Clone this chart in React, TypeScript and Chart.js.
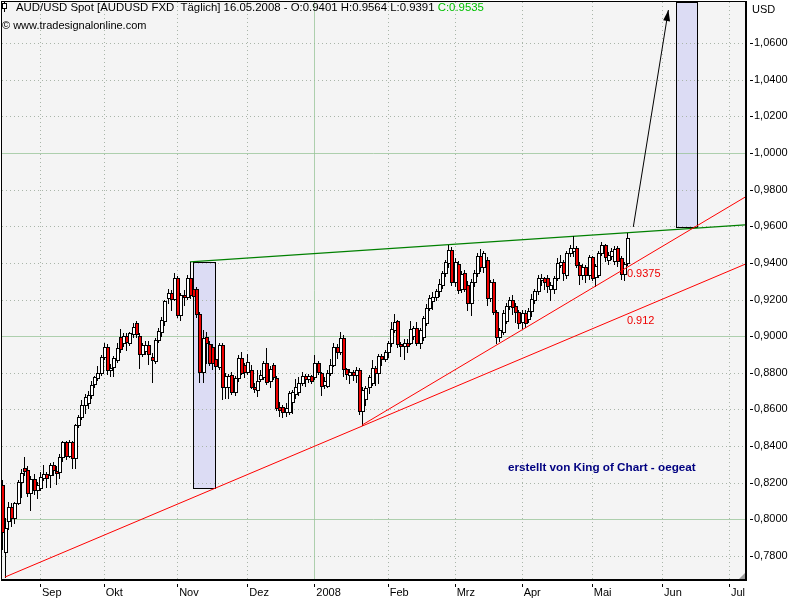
import React, { useEffect, useRef } from "react";
import { Chart, registerables } from "chart.js";

Chart.register(...registerables);

// ---- Data (trading-day index 0 = 03.09.2007) ----
const firstBarIndex = -12;

const opens = [
  0.819, 0.782, 0.799, 0.8067, 0.8007, 0.809, 0.8204, 0.828, 0.827, 0.8144,
  0.822, 0.816, 0.8171, 0.8225, 0.8245, 0.8242, 0.8297, 0.8262, 0.8259, 0.834,
  0.842, 0.8346, 0.842, 0.8335, 0.8515, 0.856, 0.8624, 0.8635, 0.868, 0.874,
  0.877, 0.88, 0.8886, 0.894, 0.8815, 0.883, 0.887, 0.8995, 0.896, 0.9,
  0.8965, 0.901, 0.907, 0.9, 0.8905, 0.8918, 0.895, 0.8886, 0.8865, 0.898,
  0.9025, 0.908, 0.921, 0.9235, 0.9205, 0.932, 0.9115, 0.9225, 0.9215, 0.9315,
  0.926, 0.926, 0.912, 0.8805, 0.8995, 0.8955, 0.894, 0.8875, 0.883, 0.895,
  0.8725, 0.8725, 0.879, 0.8695, 0.877, 0.888, 0.884, 0.8805, 0.8815, 0.8725,
  0.8705, 0.8765, 0.8775, 0.8855, 0.8755, 0.8845, 0.877, 0.8615, 0.8615, 0.8585,
  0.8585, 0.864, 0.8685, 0.8695, 0.8745, 0.878, 0.8765, 0.878, 0.8775, 0.8855,
  0.88, 0.8735, 0.873, 0.88, 0.8845, 0.894, 0.8915, 0.899, 0.882, 0.879,
  0.8805, 0.879, 0.8815, 0.859, 0.8655, 0.8725, 0.8745, 0.8825, 0.88, 0.889,
  0.8875, 0.8915, 0.896, 0.9035, 0.908, 0.8955, 0.8945, 0.896, 0.8965, 0.9,
  0.9045, 0.8965, 0.8995, 0.907, 0.9155, 0.919, 0.9215, 0.9245, 0.928, 0.9345,
  0.94, 0.947, 0.9295, 0.9395, 0.926, 0.9345, 0.928, 0.918, 0.9295, 0.9345,
  0.944, 0.9375, 0.9415, 0.921, 0.9295, 0.913, 0.8995, 0.9025, 0.9085, 0.9165,
  0.92, 0.9165, 0.913, 0.9075, 0.9125, 0.9095, 0.9135, 0.9195, 0.9245, 0.9305,
  0.9315, 0.9315, 0.926, 0.926, 0.932, 0.939, 0.9405, 0.9335, 0.9455, 0.9465,
  0.948, 0.939, 0.9335, 0.9375, 0.9335, 0.943, 0.9325, 0.9335, 0.9455, 0.95,
  0.9415, 0.9435, 0.941, 0.948, 0.9425, 0.934, 0.9401,
];

const highs = [
  0.8215, 0.801, 0.8095, 0.809, 0.8095, 0.8215, 0.8275, 0.834, 0.829, 0.8235,
  0.8245, 0.8205, 0.826, 0.8295, 0.826, 0.831, 0.8315, 0.829, 0.8355, 0.8425,
  0.843, 0.8435, 0.843, 0.852, 0.857, 0.865, 0.8685, 0.87, 0.8755, 0.8785,
  0.8835, 0.8895, 0.8965, 0.8955, 0.885, 0.889, 0.8965, 0.904, 0.9015, 0.9015,
  0.9025, 0.907, 0.9085, 0.9015, 0.8965, 0.8975, 0.8975, 0.891, 0.899, 0.9045,
  0.9105, 0.92, 0.926, 0.925, 0.9345, 0.933, 0.9235, 0.925, 0.9335, 0.9405,
  0.927, 0.927, 0.913, 0.9035, 0.902, 0.8975, 0.8955, 0.8895, 0.8965, 0.8965,
  0.88, 0.8795, 0.8805, 0.8785, 0.8895, 0.8915, 0.8855, 0.8905, 0.8845, 0.8745,
  0.8815, 0.8815, 0.8865, 0.8935, 0.8835, 0.8855, 0.878, 0.864, 0.8625, 0.8635,
  0.87, 0.8705, 0.8765, 0.8775, 0.8805, 0.8795, 0.8795, 0.879, 0.8895, 0.8865,
  0.8805, 0.8775, 0.8815, 0.8875, 0.896, 0.8955, 0.9025, 0.9005, 0.8825, 0.882,
  0.8815, 0.883, 0.8825, 0.872, 0.873, 0.879, 0.887, 0.8835, 0.8905, 0.8905,
  0.8925, 0.8975, 0.9075, 0.912, 0.909, 0.897, 0.8985, 0.8985, 0.9085, 0.9055,
  0.9075, 0.9045, 0.911, 0.9175, 0.9225, 0.924, 0.926, 0.931, 0.9355, 0.9415,
  0.9497, 0.9485, 0.9425, 0.941, 0.9355, 0.936, 0.93, 0.931, 0.936, 0.9455,
  0.9475, 0.9465, 0.943, 0.9305, 0.931, 0.914, 0.9045, 0.9145, 0.918, 0.9215,
  0.9225, 0.918, 0.9145, 0.914, 0.9145, 0.9155, 0.923, 0.926, 0.9335, 0.934,
  0.9325, 0.9335, 0.9295, 0.933, 0.9425, 0.9445, 0.9415, 0.9465, 0.9495, 0.9545,
  0.949, 0.9405, 0.9395, 0.939, 0.9445, 0.944, 0.9395, 0.9465, 0.9515, 0.9505,
  0.946, 0.948, 0.949, 0.949, 0.9435, 0.9405, 0.9564,
];

const lows = [
  0.784, 0.7685, 0.795, 0.7964, 0.798, 0.8085, 0.812, 0.824, 0.813, 0.805,
  0.814, 0.8117, 0.816, 0.8215, 0.8175, 0.8174, 0.824, 0.8195, 0.8225, 0.832,
  0.833, 0.834, 0.828, 0.828, 0.8505, 0.855, 0.858, 0.861, 0.8665, 0.8725,
  0.876, 0.879, 0.8875, 0.8795, 0.878, 0.8785, 0.886, 0.8915, 0.8945, 0.8925,
  0.895, 0.8995, 0.8995, 0.8825, 0.889, 0.89, 0.885, 0.875, 0.8855, 0.897,
  0.9, 0.906, 0.918, 0.9145, 0.9195, 0.9105, 0.909, 0.917, 0.9205, 0.921,
  0.921, 0.9105, 0.875, 0.875, 0.8855, 0.884, 0.882, 0.8815, 0.882, 0.8655,
  0.866, 0.8665, 0.8685, 0.868, 0.8755, 0.8795, 0.8775, 0.8795, 0.8715, 0.8695,
  0.8675, 0.8755, 0.8765, 0.874, 0.8725, 0.8765, 0.8595, 0.8565, 0.856, 0.8565,
  0.8575, 0.858, 0.866, 0.868, 0.8735, 0.873, 0.875, 0.8745, 0.8765, 0.8795,
  0.868, 0.8715, 0.872, 0.879, 0.8835, 0.888, 0.89, 0.8785, 0.8765, 0.8745,
  0.876, 0.875, 0.8575, 0.8515, 0.8625, 0.869, 0.8735, 0.8735, 0.8745, 0.8845,
  0.8865, 0.8885, 0.8945, 0.902, 0.894, 0.889, 0.8875, 0.8915, 0.8955, 0.8985,
  0.895, 0.8935, 0.898, 0.906, 0.9145, 0.915, 0.9195, 0.922, 0.9265, 0.933,
  0.938, 0.928, 0.9275, 0.9235, 0.924, 0.9245, 0.9145, 0.9115, 0.9275, 0.933,
  0.9355, 0.935, 0.917, 0.919, 0.912, 0.8965, 0.8975, 0.901, 0.907, 0.915,
  0.912, 0.9075, 0.9045, 0.9045, 0.905, 0.9075, 0.911, 0.918, 0.923, 0.928,
  0.926, 0.924, 0.9195, 0.9235, 0.9305, 0.9375, 0.9305, 0.932, 0.9435, 0.944,
  0.9375, 0.9285, 0.931, 0.9295, 0.931, 0.9305, 0.9275, 0.9325, 0.9445, 0.941,
  0.9395, 0.942, 0.9395, 0.9385, 0.931, 0.9305, 0.9391,
];

const closes = [
  0.793, 0.7953, 0.8067, 0.8007, 0.809, 0.8204, 0.8253, 0.8264, 0.8144, 0.822,
  0.816, 0.8188, 0.8233, 0.8245, 0.8225, 0.8297, 0.8268, 0.8252, 0.834, 0.842,
  0.8346, 0.842, 0.8335, 0.8515, 0.856, 0.8624, 0.8668, 0.868, 0.8735, 0.8777,
  0.88, 0.8886, 0.894, 0.8815, 0.8828, 0.888, 0.8935, 0.893, 0.9, 0.897,
  0.9015, 0.905, 0.901, 0.89, 0.895, 0.895, 0.89, 0.887, 0.898, 0.903,
  0.909, 0.919, 0.9235, 0.9205, 0.932, 0.9115, 0.9225, 0.9215, 0.932, 0.9225,
  0.922, 0.912, 0.8805, 0.899, 0.8965, 0.8855, 0.8855, 0.8835, 0.895, 0.872,
  0.878, 0.878, 0.8695, 0.877, 0.888, 0.88, 0.8805, 0.886, 0.8725, 0.871,
  0.8755, 0.879, 0.8855, 0.875, 0.882, 0.8775, 0.861, 0.8595, 0.8585, 0.861,
  0.869, 0.8695, 0.872, 0.8745, 0.878, 0.8765, 0.878, 0.8755, 0.8855, 0.8805,
  0.873, 0.8755, 0.88, 0.8845, 0.894, 0.8915, 0.899, 0.882, 0.8795, 0.8805,
  0.879, 0.8815, 0.859, 0.8705, 0.8715, 0.8775, 0.8825, 0.88, 0.889, 0.8875,
  0.8915, 0.896, 0.904, 0.9075, 0.8955, 0.8945, 0.896, 0.8945, 0.904, 0.9045,
  0.8965, 0.9035, 0.91, 0.9155, 0.921, 0.9215, 0.9245, 0.9285, 0.9345, 0.9405,
  0.947, 0.9295, 0.9405, 0.925, 0.934, 0.926, 0.918, 0.9295, 0.9345, 0.944,
  0.9375, 0.9455, 0.921, 0.9295, 0.913, 0.8995, 0.9035, 0.9125, 0.9165, 0.92,
  0.916, 0.913, 0.907, 0.9125, 0.907, 0.9135, 0.9205, 0.9245, 0.9315, 0.9315,
  0.9295, 0.9275, 0.928, 0.9315, 0.94, 0.9405, 0.9345, 0.9455, 0.948, 0.948,
  0.939, 0.9335, 0.9375, 0.9335, 0.943, 0.932, 0.9385, 0.9455, 0.95, 0.943,
  0.9445, 0.9465, 0.9475, 0.941, 0.934, 0.9395, 0.9535,
];

// Month ticks (trading-day index of first day of month)
const monthLabels = ["Sep", "Okt", "Nov", "Dez", "2008", "Feb", "Mrz", "Apr", "Mai", "Jun", "Jul"];
const monthIdx = [0, 20, 43, 65, 86, 109, 130, 151, 173, 195, 216];

// Price ticks
const yTickValues = [0.78, 0.8, 0.82, 0.84, 0.86, 0.88, 0.9, 0.92, 0.94, 0.96, 0.98, 1.0, 1.02, 1.04, 1.06];

// Axis ranges
const xRange = [-11.913, 221.016];
const yRange = [0.76745, 1.08238];

// Drawings (index, price)
const greenLineX = [47, 184];
const greenLineY = [0.9405, 0.9564];
const redLowX = [-11, 184];
const redLowY = [0.7685, 0.912];
const redSteepX = [101, 184];
const redSteepY = [0.8515, 0.9375];
const trendLabels = ["0.9375", "0.912"];
const arrowX = [186, 197];
const arrowY = [0.9596, 1.078];
const box1X = [47.96, 54.86];
const box1Y = [0.8171, 0.9405];
const box2X = [199.4, 206.0];
const box2Y = [0.9596, 1.083];

const FONT = '"Liberation Sans", Arial, sans-serif';

const barIdx = opens.map((_, i) => firstBarIndex + i);
const lastI = opens.length - 1;

function extendTo(xs: number[], ys: number[], xe: number) {
  return ys[0] + ((ys[1] - ys[0]) * (xe - xs[0])) / (xs[1] - xs[0]);
}

const fmt4 = (v: number) => v.toFixed(4);

const candlePlugin = {
  id: "candles",
  beforeDatasetDraw(chart: any, args: any) {
    const ds = chart.data.datasets[args.index];
    if (!ds.candleRole) return;
    const { ctx, chartArea: a, scales } = chart;
    const xs = scales.x;
    const ys = scales.y;
    ctx.save();
    ctx.beginPath();
    ctx.rect(a.left, a.top, a.right - a.left, a.bottom - a.top);
    ctx.clip();
    ds.data.forEach((d: any) => {
      const cx = Math.round(xs.getPixelForValue(d.x));
      const pa = Math.round(ys.getPixelForValue(d.y[0]));
      const pb = Math.round(ys.getPixelForValue(d.y[1]));
      const top = Math.min(pa, pb);
      const bot = Math.max(pa, pb);
      if (ds.candleRole === "wick") {
        ctx.fillStyle = "#000";
        ctx.fillRect(cx, top, 1, bot - top + 1);
      } else {
        const up = d.y[1] >= d.y[0];
        const left = cx - 1;
        const w = 4;
        ctx.fillStyle = "#000";
        ctx.fillRect(left, top, w, bot - top + 1);
        if (bot - top >= 2) {
          ctx.fillStyle = up ? "#ffffff" : "#ee0000";
          ctx.fillRect(left + 1, top + 1, w - 2, bot - top - 1);
        }
      }
    });
    ctx.restore();
    return false;
  },
};

const decorPlugin = {
  id: "decor",
  beforeDraw(chart: any) {
    const { ctx, chartArea: a } = chart;
    ctx.save();
    ctx.fillStyle = "#ffffff";
    ctx.fillRect(0, 0, chart.width, chart.height);
    ctx.fillStyle = "#f4f4f4";
    ctx.fillRect(a.left, a.top, a.right - a.left, a.bottom - a.top);
    ctx.restore();
  },
  beforeDatasetsDraw(chart: any) {
    const { ctx, chartArea: a, scales } = chart;
    const xs = scales.x;
    const ys = scales.y;
    ctx.save();
    ctx.lineWidth = 1;
    // boxes
    [
      [box1X, box1Y],
      [box2X, box2Y],
    ].forEach(([bx, by]) => {
      const l = Math.round(xs.getPixelForValue(bx[0]));
      const r = Math.round(xs.getPixelForValue(bx[1]));
      const t = Math.round(ys.getPixelForValue(by[1]));
      const b = Math.round(ys.getPixelForValue(by[0]));
      ctx.save();
      ctx.beginPath();
      ctx.rect(a.left, a.top, a.right - a.left, a.bottom - a.top);
      ctx.clip();
      ctx.fillStyle = "rgb(220,220,244)";
      ctx.fillRect(l, t, r - l, b - t);
      ctx.restore();
    });
    // grid
    yTickValues.forEach((v) => {
      const py = Math.round(ys.getPixelForValue(v)) + 0.5;
      const major = Math.abs(v * 10 - Math.round(v * 10)) < 1e-6;
      ctx.beginPath();
      ctx.setLineDash(major ? [] : [1, 3]);
      ctx.strokeStyle = major ? "rgba(150,195,150,0.75)" : "#a9b5a9";
      ctx.moveTo(a.left, py);
      ctx.lineTo(a.right, py);
      ctx.stroke();
    });
    monthIdx.forEach((v, i) => {
      const px = Math.round(xs.getPixelForValue(v)) + 0.5;
      const major = monthLabels[i] === "2008";
      ctx.beginPath();
      ctx.setLineDash(major ? [] : [1, 3]);
      ctx.strokeStyle = major ? "rgba(150,195,150,0.75)" : "#a9b5a9";
      ctx.moveTo(px, a.top);
      ctx.lineTo(px, a.bottom);
      ctx.stroke();
    });
    ctx.setLineDash([]);
    // box borders
    [
      [box1X, box1Y],
      [box2X, box2Y],
    ].forEach(([bx, by]) => {
      const l = Math.round(xs.getPixelForValue(bx[0]));
      const r = Math.round(xs.getPixelForValue(bx[1]));
      const t = Math.max(Math.round(ys.getPixelForValue(by[1])), a.top);
      const b = Math.round(ys.getPixelForValue(by[0]));
      ctx.strokeStyle = "#000";
      ctx.lineWidth = 1;
      ctx.strokeRect(l + 0.5, t + 0.5, r - l, b - t);
    });
    ctx.restore();
  },
  afterDatasetsDraw(chart: any) {
    const { ctx, scales } = chart;
    const xs = scales.x;
    const ys = scales.y;
    ctx.save();
    // arrow head
    const x0 = xs.getPixelForValue(arrowX[0]);
    const y0 = ys.getPixelForValue(arrowY[0]);
    const x1 = xs.getPixelForValue(arrowX[1]);
    const y1 = ys.getPixelForValue(arrowY[1]);
    const ang = Math.atan2(y1 - y0, x1 - x0);
    const len = 11;
    const hw = 3.5;
    ctx.fillStyle = "#000";
    ctx.beginPath();
    ctx.moveTo(x1, y1);
    ctx.lineTo(x1 - len * Math.cos(ang) + hw * Math.sin(ang), y1 - len * Math.sin(ang) - hw * Math.cos(ang));
    ctx.lineTo(x1 - len * Math.cos(ang) - hw * Math.sin(ang), y1 - len * Math.sin(ang) + hw * Math.cos(ang));
    ctx.closePath();
    ctx.fill();
    // trend labels
    const lx = xs.getPixelForValue(barIdx[lastI]);
    ctx.font = `11px ${FONT}`;
    ctx.fillStyle = "#ee0000";
    ctx.textBaseline = "alphabetic";
    ctx.textAlign = "left";
    const ySteep = ys.getPixelForValue(extendTo(redSteepX, redSteepY, barIdx[lastI]));
    const yLow = ys.getPixelForValue(extendTo(redLowX, redLowY, barIdx[lastI]));
    ctx.fillText(trendLabels[0], lx, ySteep + 10);
    ctx.fillText(trendLabels[1], lx, yLow + 10);
    ctx.restore();
  },
  afterDraw(chart: any) {
    const { ctx, chartArea: a, scales } = chart;
    const xs = scales.x;
    const ys = scales.y;
    ctx.save();
    // border
    ctx.fillStyle = "#000";
    ctx.fillRect(a.left - 1, a.top - 1, a.right - a.left + 3, 1);
    ctx.fillRect(a.left - 1, a.top - 1, 1, a.bottom - a.top + 3);
    ctx.fillRect(a.right, a.top - 1, 2, a.bottom - a.top + 3);
    ctx.fillRect(a.left - 1, a.bottom, a.right - a.left + 3, 2);
    // tick marks
    monthIdx.forEach((v) => {
      ctx.fillRect(Math.round(xs.getPixelForValue(v)), a.bottom + 5, 1, 3);
    });
    yTickValues.forEach((v) => {
      ctx.fillRect(a.right + 5, Math.round(ys.getPixelForValue(v)), 3, 1);
    });
    // resize grip
    ctx.fillStyle = "#9a9a9a";
    ctx.beginPath();
    ctx.moveTo(a.right, a.bottom - 6);
    ctx.lineTo(a.right, a.bottom);
    ctx.lineTo(a.right - 6, a.bottom);
    ctx.closePath();
    ctx.fill();
    // texts
    ctx.font = `11px ${FONT}`;
    ctx.textBaseline = "alphabetic";
    ctx.textAlign = "left";
    ctx.fillStyle = "#000";
    ctx.fillText("USD", 752, 13);
    ctx.fillText("© www.tradesignalonline.com", 2, 29);
    ctx.font = `11.4px ${FONT}`;
    const o = opens[lastI], h = highs[lastI], l = lows[lastI], c = closes[lastI];
    const t1 = `AUD/USD Spot [AUDUSD FXD  Täglich] 16.05.2008 - O:${fmt4(o)} H:${fmt4(h)} L:${fmt4(l)} `;
    ctx.fillText(t1, 16, 11);
    const w1 = ctx.measureText(t1).width;
    ctx.fillStyle = "#00c000";
    ctx.fillText(`C:${fmt4(c)}`, 16 + w1, 11);
    ctx.fillStyle = "#000";
    // icon
    ctx.fillRect(4, 1, 1, 11);
    ctx.fillStyle = "#fff";
    ctx.fillRect(3, 4, 3, 4);
    ctx.strokeStyle = "#000";
    ctx.lineWidth = 1;
    ctx.strokeRect(2.5, 3.5, 4, 5);
    // credit
    ctx.font = `bold 11.7px ${FONT}`;
    ctx.fillStyle = "#000080";
    ctx.fillText("erstellt von King of Chart - oegeat", 508, 471);
    ctx.restore();
  },
};

export default function App() {
  const ref = useRef<HTMLCanvasElement>(null);
  useEffect(() => {
    if (!ref.current) return;
    const xe = xRange[1];
    const config: any = {
      type: "bar",
      data: {
        datasets: [
          {
            type: "line",
            label: "Widerstand",
            data: [
              { x: greenLineX[0], y: greenLineY[0] },
              { x: xe, y: extendTo(greenLineX, greenLineY, xe) },
            ],
            borderColor: "#008000",
            borderWidth: 1.3,
            pointRadius: 0,
            tension: 0,
            order: 6,
          },
          {
            label: "Docht",
            candleRole: "wick",
            data: barIdx.map((x, i) => ({ x, y: [lows[i], highs[i]] })),
            grouped: false,
            barThickness: 1,
            backgroundColor: "#000",
            order: 5,
          },
          {
            label: "AUD/USD",
            candleRole: "body",
            data: barIdx.map((x, i) => ({ x, y: [opens[i], closes[i]] })),
            grouped: false,
            barThickness: 4,
            backgroundColor: "#fff",
            order: 4,
          },
          {
            type: "line",
            label: "Trend 0.912",
            data: [
              { x: redLowX[0], y: redLowY[0] },
              { x: xe, y: extendTo(redLowX, redLowY, xe) },
            ],
            borderColor: "#ff0000",
            borderWidth: 1,
            pointRadius: 0,
            tension: 0,
            order: 3,
          },
          {
            type: "line",
            label: "Trend 0.9375",
            data: [
              { x: redSteepX[0], y: redSteepY[0] },
              { x: xe, y: extendTo(redSteepX, redSteepY, xe) },
            ],
            borderColor: "#ff0000",
            borderWidth: 1,
            pointRadius: 0,
            tension: 0,
            order: 2,
          },
          {
            type: "line",
            label: "Ziel",
            data: [
              { x: arrowX[0], y: arrowY[0] },
              { x: arrowX[1], y: arrowY[1] },
            ],
            borderColor: "#000",
            borderWidth: 1,
            pointRadius: 0,
            tension: 0,
            order: 1,
          },
        ],
      },
      options: {
        animation: false,
        responsive: false,
        devicePixelRatio: 1,
        events: [],
        layout: { padding: { left: 2, top: 2, right: 0, bottom: 0 } },
        plugins: { legend: { display: false }, tooltip: { enabled: false } },
        scales: {
          x: {
            type: "linear",
            min: xRange[0],
            max: xRange[1],
            offset: false,
            grid: { display: false, drawTicks: false },
            border: { display: false },
            afterBuildTicks: (s: any) => {
              s.ticks = monthIdx.map((v) => ({ value: v }));
            },
            afterFit: (s: any) => {
              s.height = 21;
              s.paddingLeft = 0;
              s.paddingRight = 0;
            },
            ticks: {
              autoSkip: false,
              maxRotation: 0,
              minRotation: 0,
              align: "start",
              padding: 7,
              labelOffset: 2,
              color: "#000",
              font: { family: FONT, size: 11 },
              callback: (_v: any, i: number) => monthLabels[i],
            },
          },
          y: {
            type: "linear",
            position: "right",
            min: yRange[0],
            max: yRange[1],
            grid: { display: false, drawTicks: false },
            border: { display: false },
            afterBuildTicks: (s: any) => {
              s.ticks = yTickValues.map((v) => ({ value: v }));
            },
            afterFit: (s: any) => {
              s.width = 55;
              s.paddingTop = 0;
              s.paddingBottom = 0;
            },
            ticks: {
              padding: 9,
              color: "#000",
              font: { family: FONT, size: 11 },
              callback: (v: any) => Number(v).toFixed(4).replace(".", ","),
            },
          },
        },
      },
      plugins: [candlePlugin, decorPlugin],
    };
    const chart = new Chart(ref.current, config);
    return () => chart.destroy();
  }, []);
  return (
    <div style={{ position: "absolute", left: 0, top: 0, width: 800, height: 600, background: "#fff" }}>
      <canvas ref={ref} width={800} height={600} style={{ display: "block", width: 800, height: 600 }} />
    </div>
  );
}
